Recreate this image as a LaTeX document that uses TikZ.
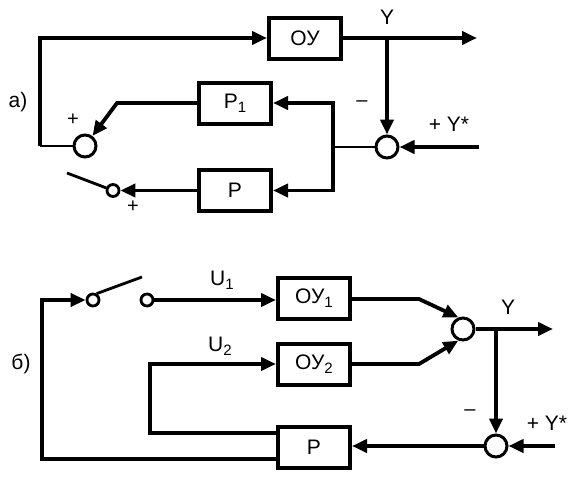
\documentclass[tikz,border=0pt]{standalone}
\usepackage{fontspec}
\setmainfont{Liberation Sans}
\usetikzlibrary{arrows.meta,calc}
\newcommand\subs[1]{\raisebox{-0.35ex}{\fontsize{15pt}{15pt}\selectfont #1}}
\tikzset{
  blk/.style={draw, line width=4pt, minimum width=72pt, minimum height=41pt, inner sep=0pt, font=\fontsize{21pt}{21pt}\selectfont},
  sum/.style={circle, draw, line width=3pt, minimum size=22pt, inner sep=0pt},
  sdot/.style={circle, draw, line width=2.8pt, minimum size=12pt, inner sep=0pt},
  ln/.style={line width=3.8pt},
  tln/.style={line width=2.8pt},
  arr/.style={-{Triangle[length=15pt,width=13pt]}},
  lbl/.style={font=\fontsize{21pt}{21pt}\selectfont, inner sep=0pt},
  sgn/.style={font=\fontsize{20pt}{20pt}\selectfont, inner sep=0pt}
}
\begin{document}
\begin{tikzpicture}[x=1pt,y=-1pt]
\useasboundingbox (0,0) rectangle (576,482);
% ---------- a) ----------
\node[blk] (ou) at (305,38) {ОУ};
\node[blk] (p1) at (235,103) {Р\subs{1}};
\node[blk] (pa) at (235,190.5) {Р};
\node[sum] (s1) at (85,146) {};
\node[sum] (s2) at (387,147) {};
\node[sdot] (da) at (113,190.5) {};
\coordinate (ya) at (477,38);
\coordinate (bra) at (387,38);
\coordinate (ysa) at (479,147);
\coordinate (vj) at (333,147);
\coordinate (kn) at (117,103);
\coordinate (bla) at (67,173);
\coordinate (fa) at (40,146);
\draw[ln,arr] (ou.east) -- (ya);
\draw[ln,arr] (bra) -- (s2.north);
\draw[ln,arr] (ysa) -- (s2.east);
\draw[tln] (s2.west) -- (vj);
\draw[ln,arr] (vj) |- (p1.east);
\draw[ln,arr] (vj) |- (pa.east);
\draw[ln,arr] (p1.west) -- (kn) -- (s1);
\draw[tln] (s1.west) -- (fa);
\draw[ln,arr] (fa) |- (ou.west);
\draw[ln,arr] (pa.west) -- (da);
\draw[tln] (bla) -- (da);
\node[lbl] (yla) at (387,17) {Y};
\node[sgn] (pl1) at (73,120) {+};
\node[sgn] (pl2) at (133,207) {+};
\node[sgn] (mi1) at (362,104) {–};
\node[lbl] (ysla) at (449,124) {+ Y*};
\node[lbl] (ta) at (18,102) {а)};
% ---------- b) ----------
\node[blk] (ou1) at (314,298.5) {ОУ\subs{1}};
\node[blk] (ou2) at (314,364) {ОУ\subs{2}};
\node[blk] (pb) at (314,447.5) {Р};
\node[sum] (sb1) at (463,329) {};
\node[sum] (sb2) at (496,446) {};
\node[sdot] (d1) at (93,300) {};
\node[sdot] (d2) at (147,300) {};
\coordinate (k1) at (419,299);
\coordinate (k2) at (419,364);
\coordinate (yb) at (553,329);
\coordinate (brb) at (496,329);
\coordinate (ysb) at (555,446);
\coordinate (blb) at (142,277);
\coordinate (fb) at (42,300);
\coordinate (u2c) at (150,364);
\draw[ln,arr] ($(pb.west)+(0,11.5)$) -| (fb) -- (d1);
\draw[tln] (d1.60) -- (blb);
\draw[ln,arr] (d2) -- (d2 -| ou1.west);
\draw[ln,arr] ($(pb.west)+(0,-14.5)$) -| (u2c) -- (ou2.west);
\draw[ln,arr] (ou1.east |- k1) -- (k1) -- (sb1.112);
\draw[ln,arr] (ou2.east |- k2) -- (k2) -- (sb1.248);
\draw[ln,arr] (sb1.east) -- (yb);
\draw[ln,arr] (brb) -- (sb2.north);
\draw[ln,arr] (ysb) -- (sb2.east);
\draw[ln,arr] (sb2.west) -- (sb2.west -| pb.east);
\node[lbl] (u1l) at (222,280) {U\subs{1}};
\node[lbl] (u2l) at (220,346) {U\subs{2}};
\node[lbl] (ylb) at (508,307) {Y};
\node[sgn] (mi2) at (470,413) {–};
\node[lbl] (yslb) at (547,423) {+ Y*};
\node[lbl] (tb) at (21,364) {б)};
\end{tikzpicture}
\end{document}
